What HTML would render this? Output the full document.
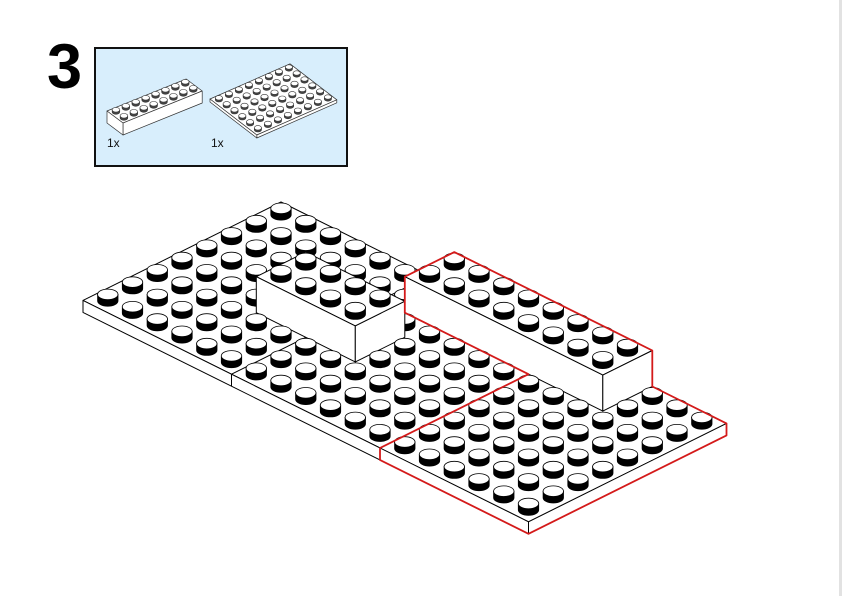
<!DOCTYPE html>
<html><head><meta charset="utf-8"><style>
html,body{margin:0;padding:0;background:#fff;}
body{width:842px;height:596px;position:relative;overflow:hidden;font-family:"Liberation Sans",sans-serif;}
#num{position:absolute;left:47px;top:36px;font-size:63px;font-weight:bold;line-height:63px;color:#000;}
#box{position:absolute;left:94px;top:47px;width:250px;height:116px;background:#d8eefc;border:2px solid #111;}
.q{position:absolute;font-size:12px;color:#111;}
#edge{position:absolute;left:839px;top:0;width:3px;height:596px;background:#e2e2e2;}
svg{position:absolute;left:0;top:0;}
</style></head><body>
<div id="num">3</div>
<div id="box"></div>
<div class="q" style="left:107px;top:136px">1x</div>
<div class="q" style="left:211px;top:136px">1x</div>
<div id="edge"></div>
<svg id="s" width="842" height="596" viewBox="0 0 842 596"></svg>
<script>
var S=document.getElementById('s'),out='';
function P(a,b,h){return [380+24.75*(a+b),460+12.3*(a-b)-12*h];}
function pts(arr){return arr.map(function(p){return p[0].toFixed(1)+','+p[1].toFixed(1)}).join(' ');}
function poly(arr,f,st,sw){out+='<polygon points="'+pts(arr)+'" fill="'+f+'" stroke="'+st+'" stroke-width="'+sw+'" stroke-linejoin="round"/>';}
function line(arr,st,sw){out+='<polyline points="'+pts(arr)+'" fill="none" stroke="'+st+'" stroke-width="'+sw+'"/>';}
function stud(cx,cy,rx,ry,hh,side,st,sw){
 out+='<path d="M'+(cx-rx)+','+(cy-hh)+' L'+(cx-rx)+','+cy+' A'+rx+' '+ry+' 0 0 0 '+(cx+rx)+','+cy+' L'+(cx+rx)+','+(cy-hh)+' Z" fill="'+side+'" stroke="'+st+'" stroke-width="'+sw+'"/>';
 out+='<ellipse cx="'+cx+'" cy="'+(cy-hh)+'" rx="'+rx+'" ry="'+ry+'" fill="#fff" stroke="'+st+'" stroke-width="'+sw+'"/>';
}
function bigStud(a,b,h){var c=P(a+.5,b+.5,h);stud(c[0].toFixed(1)*1,(c[1]+0.5).toFixed(1)*1,10.2,5.3,6.5,'#000','#000',0.8);}
function R1(s,l,z){return [107+8*s+9.9*l,123+6*s-4*l-z];}
poly([R1(0,0,12),R1(0,8,12),R1(2,8,12),R1(2,0,12)],'#fff','#333',0.7);
poly([R1(2,0,12),R1(2,8,12),R1(2,8,0),R1(2,0,0)],'#fff','#333',0.7);
poly([R1(0,0,12),R1(2,0,12),R1(2,0,0),R1(0,0,0)],'#fff','#333',0.7);
var sm=[];for(var s=0;s<2;s++)for(var l=0;l<8;l++)sm.push([s,l]);
sm.sort(function(x,y){return (x[0]-x[1])-(y[0]-y[1]);});
sm.forEach(function(c){var p=R1(c[0]+.5,c[1]+.5,12);stud(p[0],p[1],3.8,2.3,2.2,'#444','#333',0.6);});
function R2(s,l,z){return [210+7.8*s+10*l,99+6*s-4.4*l-z];}
poly([R2(0,0,0),R2(0,8,0),R2(6,8,0),R2(6,0,0)],'#fff','#333',0.7);
poly([R2(6,0,0),R2(6,8,0),R2(6,8,-3),R2(6,0,-3)],'#fff','#333',0.7);
poly([R2(0,0,0),R2(6,0,0),R2(6,0,-3),R2(0,0,-3)],'#fff','#333',0.7);
sm=[];for(var s=0;s<6;s++)for(var l=0;l<8;l++)sm.push([s,l]);
sm.sort(function(x,y){return (x[0]-x[1])-(y[0]-y[1]);});
sm.forEach(function(c){var p=R2(c[0]+.5,c[1]+.5,0);stud(p[0],p[1],3.6,2.2,2,'#444','#333',0.6);});
poly([P(-12,0,1),P(-12,8,1),P(6,8,1),P(6,0,1)],'#fff','#000',1);
poly([P(-12,0,1),P(6,0,1),P(6,0,0),P(-12,0,0)],'#fff','#000',1);
poly([P(6,0,1),P(6,8,1),P(6,8,0),P(6,0,0)],'#fff','#000',1);
line([P(-6,0,0),P(-6,0,1),P(-6,8,1)],'#000',1);
line([P(0,0,0),P(0,0,1),P(0,8,1)],'#000',1);
var B8={a0:-5,a1:3,b0:6,b1:8},B4={a0:-8,a1:-4,b0:3,b1:5};
function inside(B,a,b){return a>=B.a0&&a<B.a1&&b>=B.b0&&b<B.b1;}
function behind(B,a,b){return !(b+.5<B.b0||a+.5>B.a1);}
var g0=[],g1=[],g2=[];
for(var a=-12;a<6;a++)for(var b=0;b<8;b++){
 if(inside(B8,a,b)||inside(B4,a,b))continue;
 if(behind(B8,a,b))g0.push([a,b]);else if(behind(B4,a,b))g1.push([a,b]);else g2.push([a,b]);
}
function srt(g){g.sort(function(x,y){return (x[0]-x[1])-(y[0]-y[1]);});}
srt(g0);srt(g1);srt(g2);
function brick(B){
 poly([P(B.a0,B.b0,4),P(B.a0,B.b1,4),P(B.a1,B.b1,4),P(B.a1,B.b0,4)],'#fff','#000',1);
 poly([P(B.a0,B.b0,4),P(B.a1,B.b0,4),P(B.a1,B.b0,1),P(B.a0,B.b0,1)],'#fff','#000',1);
 poly([P(B.a1,B.b0,4),P(B.a1,B.b1,4),P(B.a1,B.b1,1),P(B.a1,B.b0,1)],'#fff','#000',1);
 var g=[];for(var a=B.a0;a<B.a1;a++)for(var b=B.b0;b<B.b1;b++)g.push([a,b]);srt(g);
 g.forEach(function(c){bigStud(c[0],c[1],4);});
}
g0.forEach(function(c){bigStud(c[0],c[1],1);});
brick(B8);
g1.forEach(function(c){bigStud(c[0],c[1],1);});
brick(B4);
g2.forEach(function(c){bigStud(c[0],c[1],1);});
poly([P(0,0,1),P(0,0,0),P(6,0,0),P(6,8,0),P(6,8,1),P(3,8,1),P(3,8,4),P(-5,8,4),P(-5,6,4),P(-5,6,1),P(0,6,1)],'none','#d41a1a',1.8);
S.innerHTML=out;
</script>
</body></html>
